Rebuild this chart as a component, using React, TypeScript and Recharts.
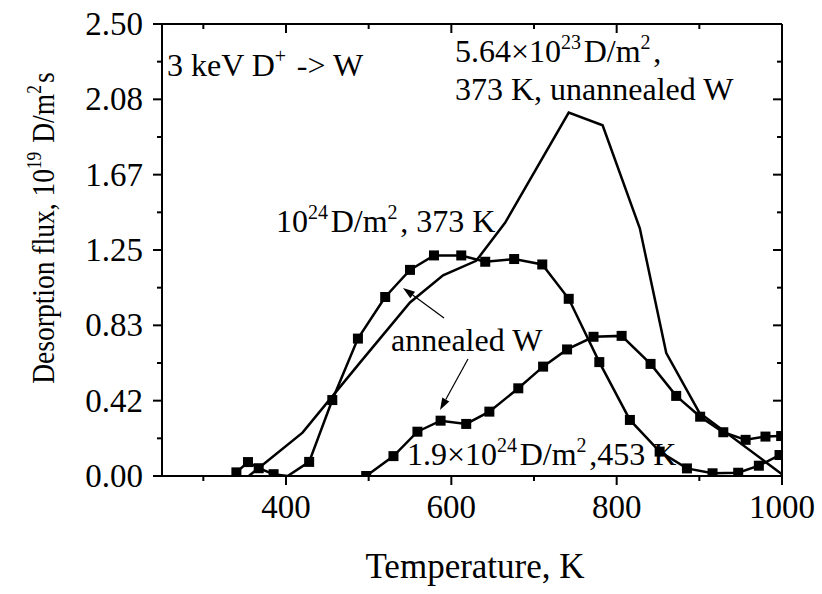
import React from 'react';
import { LineChart, Line, XAxis, YAxis, Customized } from 'recharts';

// 10^24 D/m^2, 373 K, annealed W (squares, peak ~1.22)
const annealedLowT = [340, 354, 367, 385, 402, 428, 456, 487, 520, 550, 579, 612, 641, 676, 710, 742, 779, 816, 852, 885, 916, 947, 972, 997];
const annealedLowFlux = [0.02, 0.077, 0.043, 0.01, 0, 0.078, 0.42, 0.76, 0.99, 1.14, 1.22, 1.22, 1.185, 1.2, 1.17, 0.98, 0.63, 0.31, 0.135, 0.042, 0.015, 0.018, 0.057, 0.116];

// 1.9x10^24 D/m^2, 453 K, annealed W (squares, peak ~0.78)
const annealedHighT = [497, 530, 559, 587, 618, 646, 681, 711, 740, 772, 806, 841, 872, 901, 929, 956, 980, 999];
const annealedHighFlux = [0, 0.11, 0.245, 0.306, 0.288, 0.356, 0.485, 0.605, 0.7, 0.77, 0.775, 0.62, 0.443, 0.328, 0.242, 0.2, 0.218, 0.221];

// 5.64x10^23 D/m^2, 373 K, unannealed W (plain line)
const unannealedT = [355, 420, 490, 550, 590, 630, 665, 742, 783, 828, 860, 900, 1000];
const unannealedFlux = [0, 0.24, 0.63, 0.96, 1.11, 1.19, 1.4, 2.01, 1.94, 1.37, 0.68, 0.35, 0.01];

const xTicks = [300, 400, 500, 600, 700, 800, 900, 1000];
const yTicks = [0, 0.2083, 0.4167, 0.625, 0.8333, 1.0417, 1.25, 1.4583, 1.6667, 1.875, 2.0833, 2.2917, 2.5];

const zip = (t: number[], f: number[]) => t.map((v, i) => ({ t: v, flux: f[i] }));
const lowData = zip(annealedLowT, annealedLowFlux);
const highData = zip(annealedHighT, annealedHighFlux);
const unannealedData = zip(unannealedT, unannealedFlux);

const FONT = "'Liberation Serif', 'Times New Roman', serif";
const INK = '#000';

const squareDot = (skipZero: boolean, tag: string) => (p: any) => {
  const { cx, cy, index, payload } = p;
  if (cx == null || cy == null || (skipZero && payload && payload.flux === 0)) {
    return <g key={`${tag}-${index}`} />;
  }
  return <rect key={`${tag}-${index}`} x={cx - 5} y={cy - 5} width={10} height={10} fill={INK} />;
};

const isMajorX = (v: number) => v % 200 === 0;
const isMajorY = (v: number) => Math.round(v * 10000) % Math.round((2.5 / 6) * 10000) < 5 || Math.abs(v - 2.5) < 1e-3;

const BottomTick = (p: any) => {
  const { x, y, payload } = p;
  const major = isMajorX(payload.value);
  return (
    <g>
      <line x1={x} y1={y} x2={x} y2={y + (major ? 9 : 5)} stroke={INK} strokeWidth={2} />
      {major && (
        <text x={x} y={y + 42} textAnchor="middle" fontFamily={FONT} fontSize={33} fill={INK}>
          {payload.value}
        </text>
      )}
    </g>
  );
};

const TopTick = (p: any) => {
  const { x, y, payload } = p;
  const major = isMajorX(payload.value);
  return <line x1={x} y1={y} x2={x} y2={y + (major ? 9 : 5)} stroke={INK} strokeWidth={2} />;
};

const LeftTick = (p: any) => {
  const { x, y, payload, index } = p;
  const major = index != null ? index % 2 === 0 : isMajorY(payload.value);
  return (
    <g>
      <line x1={x} y1={y} x2={x - (major ? 9 : 5)} y2={y} stroke={INK} strokeWidth={2} />
      {major && (
        <text x={x - 19} y={y + 11} textAnchor="end" fontFamily={FONT} fontSize={33} fill={INK}>
          {Number(payload.value).toFixed(2)}
        </text>
      )}
    </g>
  );
};

const RightTick = (p: any) => {
  const { x, y, index, payload } = p;
  const major = index != null ? index % 2 === 0 : isMajorY(payload.value);
  return <line x1={x} y1={y} x2={x - (major ? 9 : 5)} y2={y} stroke={INK} strokeWidth={2} />;
};

const Arrow = ({ x1, y1, x2, y2 }: { x1: number; y1: number; x2: number; y2: number }) => {
  const a = Math.atan2(y2 - y1, x2 - x1);
  const L = 12;
  const W = 4;
  const bx = x2 - L * Math.cos(a);
  const by = y2 - L * Math.sin(a);
  const pts = `${x2},${y2} ${bx + W * Math.sin(a)},${by - W * Math.cos(a)} ${bx - W * Math.sin(a)},${by + W * Math.cos(a)}`;
  return (
    <g>
      <line x1={x1} y1={y1} x2={bx} y2={by} stroke={INK} strokeWidth={1.2} />
      <polygon points={pts} fill={INK} />
    </g>
  );
};

const Sup = ({ children }: { children: React.ReactNode }) => (
  <>
    <tspan dy={-13} fontSize={20}>{children}</tspan>
    <tspan dy={13}>{'\u200a'}</tspan>
  </>
);

const Annotations = () => (
  <g fontFamily={FONT} fill={INK}>
    <text x={167} y={76} fontSize={32}>
      3 keV D<Sup>+</Sup> -&gt; W
    </text>
    <text x={455} y={62} fontSize={32}>
      5.64{'\u00d7'}10<Sup>23</Sup>D/m<Sup>2</Sup>,
    </text>
    <text x={455} y={100} fontSize={32}>
      373 K, unannealed W
    </text>
    <text x={276} y={232} fontSize={32}>
      10<Sup>24</Sup>D/m<Sup>2</Sup>, 373 K
    </text>
    <text x={391} y={351} fontSize={32}>
      annealed W
    </text>
    <text x={407} y={465} fontSize={32}>
      1.9{'\u00d7'}10<Sup>24</Sup>D/m<Sup>2</Sup>,453 K
    </text>
    <Arrow x1={444} y1={318} x2={403} y2={288} />
    <Arrow x1={468} y1={359} x2={440} y2={410} />
    <text x={475} y={578} fontSize={35} textAnchor="middle">
      Temperature, K
    </text>
    <text transform="translate(54,228) rotate(-90) scale(0.86,1)" fontSize={32} textAnchor="middle">
      Desorption flux, 10<Sup>19</Sup> D/m<Sup>2</Sup>s
    </text>
  </g>
);

const App = () => {
  return (
    <div style={{ position: 'absolute', left: 0, top: 0, width: 822, height: 594, background: '#fff' }}>
      <LineChart width={822} height={594} margin={{ top: 20, right: 30, bottom: 58, left: 62 }}>
        <XAxis
          xAxisId="b"
          type="number"
          dataKey="t"
          domain={[250, 1000]}
          allowDataOverflow
          ticks={xTicks}
          interval={0}
          height={60}
          tickSize={0}
          tickMargin={0}
          tickLine={false}
          tick={BottomTick}
          axisLine={{ stroke: INK, strokeWidth: 2 }}
        />
        <XAxis
          xAxisId="t"
          orientation="top"
          type="number"
          dataKey="t"
          domain={[250, 1000]}
          allowDataOverflow
          ticks={xTicks}
          interval={0}
          height={4}
          tickSize={0}
          tickMargin={0}
          tickLine={false}
          tick={TopTick}
          axisLine={{ stroke: INK, strokeWidth: 2 }}
        />
        <YAxis
          yAxisId="l"
          type="number"
          domain={[0, 2.5]}
          allowDataOverflow
          ticks={yTicks}
          interval={0}
          width={100}
          tickSize={0}
          tickMargin={0}
          tickLine={false}
          tick={LeftTick}
          axisLine={{ stroke: INK, strokeWidth: 2 }}
        />
        <YAxis
          yAxisId="r"
          orientation="right"
          type="number"
          domain={[0, 2.5]}
          allowDataOverflow
          ticks={yTicks}
          interval={0}
          width={10}
          tickSize={0}
          tickMargin={0}
          tickLine={false}
          tick={RightTick}
          axisLine={{ stroke: INK, strokeWidth: 2 }}
        />
        <Customized component={Annotations} />
        <Line
          xAxisId="b"
          yAxisId="l"
          data={unannealedData}
          dataKey="flux"
          type="linear"
          stroke={INK}
          strokeWidth={2.5}
          dot={false}
          isAnimationActive={false}
        />
        <Line
          xAxisId="b"
          yAxisId="l"
          data={lowData}
          dataKey="flux"
          type="linear"
          stroke={INK}
          strokeWidth={2.5}
          dot={squareDot(true, 'low')}
          isAnimationActive={false}
        />
        <Line
          xAxisId="b"
          yAxisId="l"
          data={highData}
          dataKey="flux"
          type="linear"
          stroke={INK}
          strokeWidth={2.5}
          dot={squareDot(false, 'high')}
          isAnimationActive={false}
        />
      </LineChart>
    </div>
  );
};

export default App;
